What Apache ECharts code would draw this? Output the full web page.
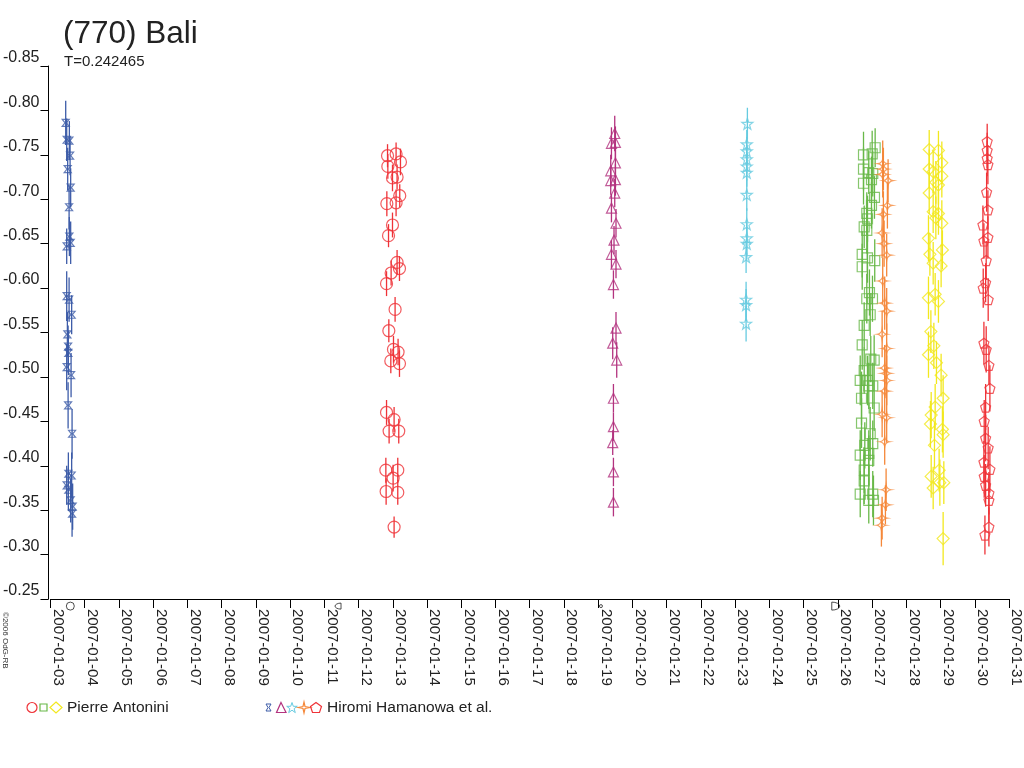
<!DOCTYPE html>
<html>
<head>
<meta charset="utf-8">
<script src="https://cdn.jsdelivr.net/npm/echarts@6/dist/echarts.min.js"></script>
<style>
html,body{margin:0;padding:0;background:#fff;}
#main{width:1024px;height:768px;}
</style>
</head>
<body>
<div id="main"></div>
<script>
var FONT = '"Liberation Sans", Arial, sans-serif';

// each point: [day of January 2007, reduced magnitude, error]
var hiromiBlue = [
    [3.445,-0.786,0.025],[3.474,-0.767,0.024],[3.552,-0.766,0.022],[3.573,-0.749,0.022],
    [3.503,-0.734,0.024],[3.590,-0.713,0.022],[3.544,-0.691,0.025],[3.552,-0.658,0.022],
    [3.474,-0.647,0.020],[3.590,-0.651,0.024],[3.474,-0.591,0.028],[3.544,-0.587,0.025],
    [3.619,-0.570,0.022],[3.494,-0.548,0.025],[3.515,-0.534,0.024],[3.523,-0.527,0.025],
    [3.474,-0.511,0.026],[3.602,-0.502,0.025],[3.515,-0.468,0.026],[3.631,-0.436,0.028],
    [3.523,-0.391,0.024],[3.619,-0.389,0.026],[3.474,-0.378,0.022],[3.590,-0.361,0.025],
    [3.648,-0.354,0.026],[3.523,-0.373,0.024],[3.631,-0.346,0.026]
];
var pierreRed = [
    [12.846,-0.749,0.013],[13.096,-0.751,0.013],[13.224,-0.742,0.015],[12.855,-0.737,0.014],
    [12.991,-0.724,0.015],[13.125,-0.725,0.014],[13.203,-0.704,0.013],[12.826,-0.695,0.014],
    [13.096,-0.696,0.015],[12.991,-0.671,0.014],[12.875,-0.659,0.013],[13.125,-0.629,0.014],
    [12.951,-0.617,0.014],[13.195,-0.622,0.014],[12.817,-0.605,0.014],[13.067,-0.576,0.014],
    [12.884,-0.552,0.013],[13.020,-0.531,0.015],[13.154,-0.528,0.015],[12.942,-0.518,0.014],
    [13.195,-0.515,0.015],[12.817,-0.460,0.014],[13.038,-0.452,0.014],[12.892,-0.439,0.014],
    [13.174,-0.439,0.014],[12.797,-0.395,0.014],[13.145,-0.395,0.014],[13.009,-0.386,0.015],
    [12.805,-0.371,0.015],[13.145,-0.370,0.014],[13.038,-0.331,0.012]
];
var hiromiPurple = [
    [19.483,-0.774,0.020],[19.387,-0.763,0.018],[19.503,-0.764,0.018],[19.503,-0.741,0.016],
    [19.366,-0.732,0.018],[19.366,-0.721,0.016],[19.503,-0.722,0.018],[19.483,-0.707,0.016],
    [19.387,-0.690,0.016],[19.520,-0.673,0.016],[19.462,-0.654,0.016],[19.387,-0.638,0.016],
    [19.520,-0.627,0.016],[19.445,-0.604,0.016],[19.520,-0.555,0.018],[19.424,-0.538,0.018],
    [19.541,-0.519,0.020],[19.445,-0.476,0.016],[19.445,-0.444,0.016],[19.424,-0.426,0.014],
    [19.445,-0.393,0.016],[19.445,-0.359,0.016]
];
var hiromiCyan = [
    [23.358,-0.785,0.018],[23.340,-0.762,0.016],[23.340,-0.754,0.016],[23.340,-0.745,0.016],
    [23.340,-0.737,0.016],[23.340,-0.730,0.016],[23.340,-0.705,0.018],[23.340,-0.672,0.018],
    [23.340,-0.656,0.018],[23.340,-0.650,0.018],[23.320,-0.635,0.018],[23.320,-0.587,0.020],
    [23.320,-0.581,0.018],[23.320,-0.560,0.020]
];
var pierreGreen = [
    [27.090,-0.758,0.022],[26.750,-0.750,0.026],[27.003,-0.751,0.026],[26.750,-0.734,0.024],
    [26.904,-0.730,0.024],[27.020,-0.729,0.026],[26.750,-0.718,0.024],[26.983,-0.722,0.026],
    [27.070,-0.702,0.024],[26.983,-0.693,0.026],[26.846,-0.684,0.024],[26.866,-0.678,0.026],
    [26.770,-0.669,0.024],[26.846,-0.665,0.026],[26.712,-0.638,0.026],[26.866,-0.634,0.028],
    [27.078,-0.631,0.024],[26.712,-0.624,0.026],[26.924,-0.595,0.026],[26.846,-0.588,0.028],
    [27.012,-0.588,0.026],[26.945,-0.570,0.024],[26.770,-0.558,0.026],[26.712,-0.536,0.028],
    [26.962,-0.520,0.026],[27.061,-0.519,0.028],[26.770,-0.507,0.026],[26.654,-0.496,0.028],
    [26.866,-0.496,0.028],[26.904,-0.490,0.026],[27.020,-0.490,0.026],[26.692,-0.476,0.030],
    [27.061,-0.465,0.026],[26.692,-0.448,0.028],[26.945,-0.436,0.030],[26.788,-0.423,0.026],
    [27.020,-0.425,0.026],[26.654,-0.412,0.028],[26.904,-0.414,0.026],[26.904,-0.406,0.028],
    [26.770,-0.395,0.026],[26.770,-0.383,0.026],[26.654,-0.368,0.026],[27.020,-0.368,0.026],
    [26.904,-0.361,0.026],[27.041,-0.361,0.028]
];
var hiromiOrange = [
    [27.311,-0.740,0.026],[27.331,-0.734,0.024],[27.311,-0.728,0.026],[27.468,-0.721,0.024],
    [27.448,-0.693,0.026],[27.331,-0.683,0.026],[27.294,-0.662,0.028],[27.352,-0.650,0.026],
    [27.427,-0.637,0.024],[27.311,-0.608,0.026],[27.369,-0.583,0.030],[27.427,-0.574,0.026],
    [27.294,-0.548,0.026],[27.427,-0.532,0.028],[27.369,-0.510,0.026],[27.410,-0.504,0.028],
    [27.427,-0.496,0.028],[27.369,-0.484,0.026],[27.294,-0.458,0.026],[27.427,-0.454,0.028],
    [27.369,-0.427,0.026],[27.410,-0.373,0.024],[27.390,-0.356,0.022],[27.294,-0.341,0.024],
    [27.273,-0.333,0.024]
];
var pierreYellow = [
    [28.669,-0.756,0.022],[28.939,-0.755,0.022],[29.038,-0.741,0.024],[28.669,-0.734,0.022],
    [28.785,-0.731,0.024],[29.038,-0.726,0.024],[28.863,-0.719,0.024],[28.939,-0.716,0.022],
    [28.669,-0.707,0.024],[28.785,-0.686,0.024],[28.939,-0.684,0.024],[28.863,-0.679,0.024],
    [29.038,-0.673,0.026],[28.648,-0.656,0.026],[29.055,-0.643,0.022],[28.689,-0.638,0.024],
    [28.785,-0.628,0.024],[29.017,-0.625,0.024],[28.648,-0.589,0.024],[28.843,-0.593,0.024],
    [28.939,-0.585,0.024],[28.718,-0.551,0.024],[28.805,-0.535,0.026],[28.648,-0.525,0.026],
    [28.881,-0.516,0.024],[29.017,-0.502,0.024],[29.076,-0.476,0.026],[28.843,-0.466,0.026],
    [28.727,-0.457,0.026],[28.706,-0.447,0.026],[29.055,-0.441,0.026],[29.076,-0.435,0.026],
    [28.823,-0.423,0.026],[28.727,-0.388,0.024],[28.959,-0.395,0.024],[29.096,-0.381,0.024],
    [28.785,-0.375,0.024],[28.980,-0.381,0.026],[29.076,-0.318,0.030]
];
var hiromiRed = [
    [30.363,-0.765,0.020],[30.363,-0.755,0.020],[30.363,-0.746,0.020],[30.384,-0.739,0.022],
    [30.346,-0.708,0.022],[30.384,-0.688,0.022],[30.238,-0.671,0.022],[30.267,-0.653,0.020],
    [30.384,-0.657,0.024],[30.334,-0.631,0.022],[30.317,-0.606,0.022],[30.247,-0.600,0.022],
    [30.392,-0.587,0.024],[30.267,-0.538,0.024],[30.334,-0.531,0.026],[30.413,-0.513,0.022],
    [30.442,-0.487,0.026],[30.317,-0.466,0.026],[30.276,-0.450,0.024],[30.317,-0.431,0.026],
    [30.392,-0.420,0.024],[30.267,-0.404,0.024],[30.442,-0.396,0.026],[30.276,-0.388,0.024],
    [30.317,-0.378,0.024],[30.413,-0.369,0.024],[30.413,-0.361,0.024],[30.413,-0.331,0.022],
    [30.297,-0.322,0.022]
];
// moon phase marks under the axis: [day, mag, phase]
var moonPhases = [[3.58,-0.242,'full'],[11.40,-0.242,'last'],[19.08,-0.242,'new'],[25.94,-0.242,'first']];

var SYM = {
    hourglass:'path://M0,0L10,0L6,5L10,10L0,10L4,5Z',
    star:'path://M5,0L6.2,3.6L10,3.6L7,5.9L8.1,9.6L5,7.4L1.9,9.6L3,5.9L0,3.6L3.8,3.6Z',
    spark:'path://M5,0Q5.6,4.4,10,5Q5.6,5.6,5,10Q4.4,5.6,0,5Q4.4,4.4,5,0Z',
    pentagon:'path://M5,0L10,3.8L8.1,10L1.9,10L0,3.8Z',
    halfR:'path://M4,0A5,5 0 0 1 4,10Z',
    halfL:'path://M6,0A5,5 0 0 0 6,10Z'
};
var C = {blue:'#3d5ca8', red:'#ef3338', purple:'#b3337f', cyan:'#66cbe0',
         green:'#68b848', orange:'#f5883a', yellow:'#f2e81e'};

function errBars(data, color){
    return {
        type:'custom', data:data, silent:true, z:1,
        renderItem:function(params, api){
            var x = api.value(0), y = api.value(1), e = api.value(2);
            var a = api.coord([x, y - e]), b = api.coord([x, y + e]);
            return {type:'line', shape:{x1:a[0], y1:a[1], x2:b[0], y2:b[1]},
                    style:{stroke:color, lineWidth:1.3}};
        }
    };
}
function points(data, symbol, size, color){
    return {
        type:'scatter', data:data, symbol:symbol, symbolSize:size, silent:true, z:2,
        itemStyle:{color:'rgba(255,255,255,0)', borderColor:color, borderWidth:1.2}
    };
}

var series = [
    errBars(hiromiBlue, C.blue), points(hiromiBlue, SYM.hourglass, 7, C.blue),
    errBars(pierreRed, C.red), points(pierreRed, 'circle', 12, C.red),
    errBars(hiromiPurple, C.purple), points(hiromiPurple, 'triangle', 10, C.purple),
    errBars(hiromiCyan, C.cyan), points(hiromiCyan, SYM.star, 11, C.cyan),
    errBars(pierreGreen, C.green), points(pierreGreen, 'rect', 10, C.green),
    errBars(hiromiOrange, C.orange), points(hiromiOrange, SYM.spark, 10, C.orange),
    errBars(pierreYellow, C.yellow), points(pierreYellow, 'diamond', 12, C.yellow),
    errBars(hiromiRed, C.red), points(hiromiRed, SYM.pentagon, 10, C.red),
    {
        type:'scatter', silent:true, clip:false, z:3,
        data:moonPhases.map(function(m){
            var s = {full:'circle', last:SYM.halfL, 'new':'circle', first:SYM.halfR}[m[2]];
            var z = {full:8, last:6, 'new':3, first:8}[m[2]];
            return {value:[m[0], m[1]], symbol:s, symbolSize:z};
        }),
        itemStyle:{color:'rgba(255,255,255,0)', borderColor:'#222', borderWidth:1}
    }
];

var chart = echarts.init(document.getElementById('main'));
chart.setOption({
    animation:false,
    backgroundColor:'#fff',
    grid:{left:47, right:14, top:66, bottom:169},
    xAxis:{
        type:'value', min:3, max:31, interval:1,
        axisLine:{onZero:false, lineStyle:{color:'#000', width:1}},
        axisTick:{length:9, lineStyle:{color:'#000'}},
        splitLine:{show:false},
        axisLabel:{
            rotate:-90, margin:10, verticalAlign:'bottom',
            color:'#222', fontFamily:FONT, fontSize:15,
            formatter:function(v){ return '2007-01-' + (v < 10 ? '0' : '') + v; }
        }
    },
    yAxis:{
        type:'value', inverse:true, min:-0.85, max:-0.25, interval:0.05, offset:2,
        axisLine:{show:true, onZero:false, lineStyle:{color:'#000', width:1}},
        axisTick:{show:true, length:8, lineStyle:{color:'#000'}},
        splitLine:{show:false},
        axisLabel:{
            margin:9, verticalAlign:'bottom', color:'#222', fontFamily:FONT, fontSize:16,
            formatter:function(v){ return v.toFixed(2); }
        }
    },
    graphic:[
        {type:'text', left:63, top:18, style:{text:'(770) Bali', fill:'#222', font:'31.5px ' + FONT}},
        {type:'text', left:64, top:54, style:{text:'T=0.242465', fill:'#222', font:'15px ' + FONT}},
        {type:'text', x:1, y:612, rotation:-Math.PI/2,
         style:{text:'\u00a92006 OdG-RB', fill:'#333', font:'8px ' + FONT, textVerticalAlign:'bottom'}},
        // legend, Pierre Antonini
        {type:'circle', shape:{cx:32, cy:707.5, r:5}, style:{fill:'none', stroke:C.red, lineWidth:1.2}},
        {type:'rect', shape:{x:40, y:704, width:7, height:7}, style:{fill:'none', stroke:C.green, lineWidth:1.2}},
        {type:'polygon', shape:{points:[[56,702],[62,707.5],[56,713],[50,707.5]]}, style:{fill:'none', stroke:C.yellow, lineWidth:1.2}},
        {type:'text', x:67, y:700, style:{text:'Pierre Antonini', fill:'#222', font:'15.5px ' + FONT}},
        // legend, Hiromi Hamanowa et al.
        {type:'polygon', shape:{points:[[266,704],[271,704],[269,707.5],[271,711],[266,711],[268,707.5]]}, style:{fill:'none', stroke:C.blue, lineWidth:1}},
        {type:'polygon', shape:{points:[[281,702.5],[286,712.5],[276.5,712.5]]}, style:{fill:'none', stroke:C.purple, lineWidth:1.2}},
        {type:'polygon', shape:{points:[[292,702.5],[293.3,706.3],[297.3,706.3],[294.1,708.7],[295.3,712.6],[292,710.2],[288.7,712.6],[289.9,708.7],[286.7,706.3],[290.7,706.3]]}, style:{fill:'none', stroke:C.cyan, lineWidth:1}},
        {type:'polygon', shape:{points:[[304,702],[305,706.5],[310,707.5],[305,708.5],[304,713],[303,708.5],[298.3,707.5],[303,706.5]]}, style:{fill:'none', stroke:C.orange, lineWidth:1.2}},
        {type:'polygon', shape:{points:[[316,702.5],[321.5,706.5],[319.5,712.5],[312.5,712.5],[310.5,706.5]]}, style:{fill:'none', stroke:C.red, lineWidth:1.2}},
        {type:'text', x:327, y:700, style:{text:'Hiromi Hamanowa et al.', fill:'#222', font:'15.5px ' + FONT}}
    ],
    series:series
});
</script>
</body>
</html>
